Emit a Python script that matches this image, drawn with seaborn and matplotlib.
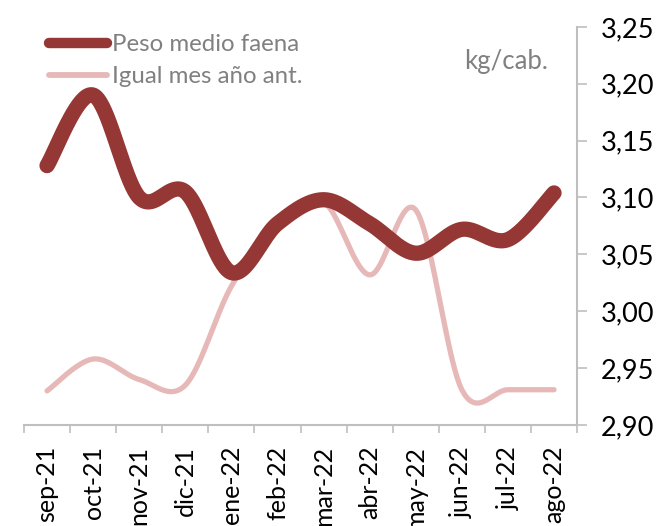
import numpy as np
import pandas as pd
import seaborn as sns
import matplotlib
matplotlib.use("Agg")
import matplotlib.pyplot as plt
from matplotlib.lines import Line2D
from matplotlib.ticker import FuncFormatter, FixedLocator

months = ["sep-21", "oct-21", "nov-21", "dic-21", "ene-22", "feb-22",
          "mar-22", "abr-22", "may-22", "jun-22", "jul-22", "ago-22"]
peso_medio = [3.128, 3.190, 3.100, 3.105, 3.034, 3.077,
              3.098, 3.077, 3.051, 3.072, 3.063, 3.104]
igual_mes_ant = [2.930, 2.958, 2.940, 2.935, 3.022, 3.077,
                 3.096, 3.032, 3.089, 2.931, 2.931, 2.931]
y_ticks = [2.90, 2.95, 3.00, 3.05, 3.10, 3.15, 3.20, 3.25]

DARK = "#953735"
PINK = "#E6B9B8"
GREY = "#BFBFBF"
TEXT_GREY = "#808080"


def smooth(values, n=40):
    """Bezier smoothing through every point (Catmull-Rom style)."""
    p = np.column_stack([np.arange(len(values), dtype=float), values])
    ext = np.vstack([p[0], p, p[-1]])
    xs, ys = [], []
    t = np.linspace(0, 1, n)
    for i in range(1, len(ext) - 2):
        p0, p1, p2, p3 = ext[i - 1], ext[i], ext[i + 1], ext[i + 2]
        c1 = p1 + (p2 - p0) / 6.0
        c2 = p2 - (p3 - p1) / 6.0
        seg = ((1 - t)[:, None] ** 3 * p1 + 3 * ((1 - t) ** 2 * t)[:, None] * c1
               + 3 * ((1 - t) * t ** 2)[:, None] * c2 + (t ** 3)[:, None] * p2)
        xs.append(seg[:, 0])
        ys.append(seg[:, 1])
    return np.concatenate(xs), np.concatenate(ys)


sns.set_theme(style="white")
plt.rcParams["font.family"] = ["Lato", "DejaVu Sans"]

fig = plt.figure(figsize=(6.64, 5.26), dpi=100)
ax = fig.add_axes([0.0361, 0.192, 0.833, 0.757])

frames = []
for name, vals in [("Igual mes año ant.", igual_mes_ant), ("Peso medio faena", peso_medio)]:
    sx, sy = smooth(vals)
    frames.append(pd.DataFrame({"x": sx, "y": sy, "serie": name}))
df = pd.concat(frames, ignore_index=True)

sns.lineplot(data=df[df.serie == "Igual mes año ant."], x="x", y="y", ax=ax,
             color=PINK, linewidth=3.8, solid_capstyle="round", sort=False,
             legend=False)
sns.lineplot(data=df[df.serie == "Peso medio faena"], x="x", y="y", ax=ax,
             color=DARK, linewidth=11, solid_capstyle="round", sort=False,
             legend=False)

ax.set_xlim(-0.5, len(months) - 0.5)
ax.set_ylim(2.90, 3.25)
ax.set_xlabel("")
ax.set_ylabel("")

ax.yaxis.tick_right()
ax.yaxis.set_major_locator(FixedLocator(y_ticks))
ax.yaxis.set_major_formatter(FuncFormatter(lambda v, _: f"{v:.2f}".replace(".", ",")))

ax.set_xticks(np.arange(-0.5, len(months), 1.0))
ax.set_xticklabels([])
ax.set_xticks(np.arange(len(months)), minor=True)
ax.set_xticklabels(months, minor=True, rotation=90, fontsize=18, color="black")
ax.tick_params(axis="x", which="major", length=5.8, width=1.2, color=GREY, direction="out", bottom=True)
ax.tick_params(axis="x", which="minor", length=0, pad=15)
ax.tick_params(axis="y", which="major", length=7.2, width=1.2, color=GREY, direction="out",
               right=True, left=False, labelsize=19.5, labelcolor="black", pad=10)

for side in ["top", "left"]:
    ax.spines[side].set_visible(False)
for side in ["bottom", "right"]:
    ax.spines[side].set_color(GREY)
    ax.spines[side].set_linewidth(1.5)

handles = [Line2D([], [], color=DARK, linewidth=7.5, solid_capstyle="round"),
           Line2D([], [], color=PINK, linewidth=4.2, solid_capstyle="round")]
leg = ax.legend(handles, ["Peso medio faena", "Igual mes año ant."],
                loc="upper left", bbox_to_anchor=(0.027, 1.005), frameon=False,
                fontsize=17.3, handlelength=2.45, handletextpad=0.2, labelspacing=0.45,
                borderaxespad=0.0)
for t in leg.get_texts():
    t.set_color(TEXT_GREY)

ax.text(0.948, 0.945, "kg/cab.", transform=ax.transAxes, ha="right", va="top",
        fontsize=18.5, color=TEXT_GREY)

fig.savefig("out.png", dpi=100)
